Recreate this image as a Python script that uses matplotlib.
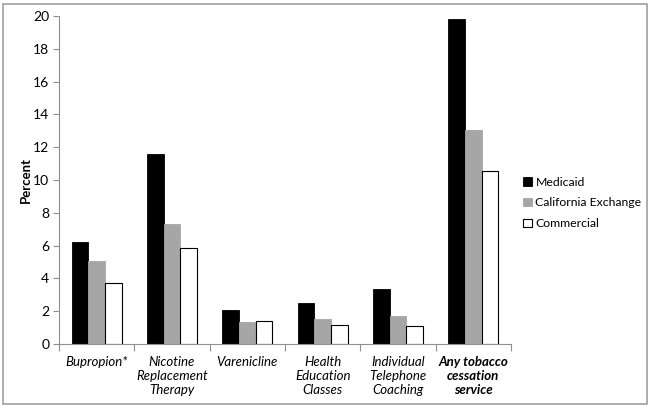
import numpy as np
import matplotlib.pyplot as plt
from matplotlib.patches import Rectangle

plt.rcParams['font.family'] = ['Lato', 'DejaVu Sans']

categories = ['Bupropion*', 'Nicotine\nReplacement\nTherapy', 'Varenicline',
              'Health\nEducation\nClasses', 'Individual\nTelephone\nCoaching',
              'Any tobacco\ncessation\nservice']
medicaid = [6.2, 11.6, 2.05, 2.5, 3.35, 19.8]
california = [5.05, 7.3, 1.35, 1.5, 1.7, 13.05]
commercial = [3.75, 5.85, 1.4, 1.15, 1.1, 10.55]

fig = plt.figure(figsize=(6.51, 4.08), dpi=100)
ax = fig.add_axes([59/651, 64/408, 452/651, 328/408])

x = np.arange(len(categories))
w = 0.22
ax.bar(x - w, medicaid, w, color='black', edgecolor='black', linewidth=0.6, label='Medicaid')
ax.bar(x, california, w, color='#a6a6a6', edgecolor='#a6a6a6', linewidth=0.6, label='California Exchange')
ax.bar(x + w, commercial, w, color='white', edgecolor='black', linewidth=0.8, label='Commercial')

ax.set_xlim(-0.5, len(categories) - 0.5)
ax.set_ylim(0, 20)
ax.set_yticks(range(0, 21, 2))
ax.set_xticks(np.arange(-0.5, len(categories), 1.0))
ax.set_xticklabels([])
ax.tick_params(axis='x', length=5, color='#909090', direction='out')
ax.tick_params(axis='y', length=4, color='#909090', labelsize=10, pad=3)
for i, c in enumerate(categories):
    bold = i == len(categories) - 1
    ax.text(i, -0.75, c, ha='center', va='top', fontsize=9.5, style='italic',
            fontweight='bold' if bold else 'normal', linespacing=1.2)

for s in ['top', 'right']:
    ax.spines[s].set_visible(False)
for s in ['left', 'bottom']:
    ax.spines[s].set_color('#909090')

ax.set_ylabel('Percent', fontsize=9.5, fontweight='bold', labelpad=1)

ax.legend(loc='center left', bbox_to_anchor=(1.0, 0.43), frameon=False,
          fontsize=8.8, handlelength=0.7, handleheight=0.7, handletextpad=0.3,
          labelspacing=0.8, borderaxespad=0.6)

fig.patches.append(Rectangle((3/651, 4/408), 644/651, 400/408, transform=fig.transFigure,
                             fill=False, edgecolor='#a0a0a0', linewidth=1.2))

fig.savefig('out.png', dpi=100)
